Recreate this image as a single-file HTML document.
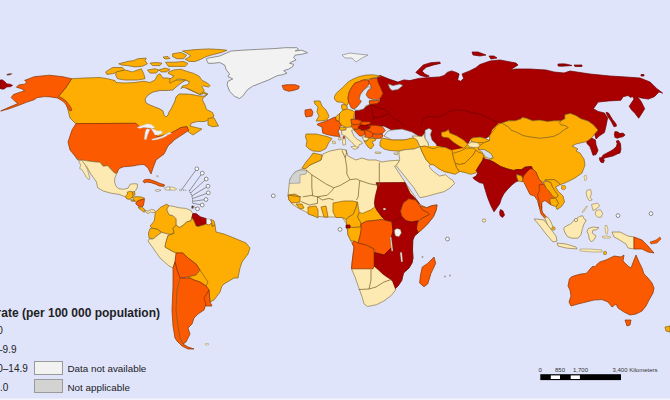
<!DOCTYPE html>
<html><head><meta charset="utf-8"><style>
html,body{margin:0;padding:0;width:670px;height:400px;overflow:hidden;background:#dfe4fb;}
#m{position:absolute;left:0;top:0;filter:blur(0.4px);}
.t{position:absolute;font-family:"Liberation Sans",Arial,sans-serif;color:#222;white-space:nowrap;line-height:1;}
.r{font-size:10px;text-align:right;}
.b{position:absolute;border:1px solid #9a9a9a;box-sizing:border-box;}
</style></head><body>
<svg id="m" width="670" height="400" viewBox="0 0 670 400">
<rect width="670" height="400" fill="#dfe4fb"/>
<polygon points="71.6,78.7 84,78 100,77.5 107.5,78.75 115,80.6 116,82.5 125,83 135,82.5 143.75,81.25 150,82.5 155,80 157.5,75 160,73.75 163,78 168,78 174,80 182,80 188,80 192,84 196,88 204,92 208,94 202,99 205,105 206.5,109.5 212.5,112.5 214,116 211,118.5 205,121.5 197.5,121.5 191.5,123 190,126 202,129 193,135 188.5,132 188.5,130.5 187,126.7 181,127.5 172,132.6 170,133.2 166.8,134.3 161.8,135.9 156.9,136.5 155.2,134.3 154.1,131 153,128.5 151.4,128.2 148.1,127.7 144.2,127.4 139.3,126.6 136,123.3 76,123.6 75,123 70,118 68,110 65.7,102 61.2,99.1 57.5,97.6 65.7,87.9" fill="#feae02" stroke="#85621a" stroke-width="0.72" stroke-linejoin="round"/>
<polygon points="145,99 148,95 153,92 160,90.5 166,90.5 173,90 176,87 181,83 186,80 191,82 190,85 186,88 190,90 196,92.8 200,94.6 204,93.5 207,94.5 204,96.2 198,95.8 192,94.5 186,94 179,94 176,97 175,101 173,105 171,109 169,112 168,115 166,117 164,115 163,111 160,109 155,107 150,105 146,103" fill="#dfe4fb" stroke="#735c2e" stroke-width="0.72" stroke-linejoin="round"/>
<polygon points="208,118.5 214,117.7 218.5,126 212.5,126.7 208,125" fill="#feae02" stroke="#85621a" stroke-width="0.72" stroke-linejoin="round"/>
<polygon points="24.6,80.4 34.3,76.7 49.3,75.2 62.7,76.7 71.6,78.7 65.7,87.9 58.5,96.5 62,98 66,101 70,106 72,110 70,111 68,108 65,103 61,100 57.5,98 50.7,96.9 44.8,96.6 37.3,97.6 33.6,99.9 26.9,102.1 19.4,105.1 9,108.8 0.7,111 9,107.3 17.9,103.6 14.2,100.6 11.2,97.6 13.4,94.6 19.4,92.4 24.6,90.9 21.6,88.7 16.4,87.2 18.7,84.9 24.6,84.2 26.9,81.9" fill="#fc5a00" stroke="#8a3400" stroke-width="0.72" stroke-linejoin="round"/>
<polygon points="76,123.6 136,123.3 139.3,126.6 144.2,127.4 148.1,127.7 151.4,128.2 153,128.5 154.1,131 155.2,134.3 156.9,136.5 161.8,135.9 166.8,134.3 170,133.2 172,132.6 181,127.5 187,126.7 188.5,130.5 179.5,136.5 174,140 172,142.5 170,144 168,146 164,154 156,160 153,168 151,174 148,168 144,164.5 141.5,164.6 137,165.1 134.7,165.7 130.2,166.2 123.5,166.8 119,168.5 116.7,173.6 114.5,173 111.1,169.6 107.7,165.7 103.2,166.2 99.9,162.3 93.1,161.7 85.2,160.6 77.4,159.5 75,156 70,150 68,142 72,130" fill="#fc5a00" stroke="#8a3400" stroke-width="0.72" stroke-linejoin="round"/>
<polygon points="137.1,127.2 143.5,125.1 147.2,123.7 151.4,124.4 154.9,127.2 152.9,128.6 148.6,128.0 143.5,127.6 139.3,128.6" fill="#f3f1f8" stroke="#b8b0a0" stroke-width="0.36" stroke-linejoin="round"/>
<polygon points="147.1,128.8 150.0,129.4 147.8,134.5 146.3,139.4 144.3,139.4 144.9,133.7 145.7,130.2" fill="#f3f1f8" stroke="#b8b0a0" stroke-width="0.36" stroke-linejoin="round"/>
<polygon points="150.5,127.9 154.1,129.3 157.0,130.8 161.3,130.8 162.7,132.9 158.4,135.1 154.8,135.1 153.4,132.2" fill="#f3f1f8" stroke="#b8b0a0" stroke-width="0.36" stroke-linejoin="round"/>
<polygon points="151.5,139.2 157.2,137.8 162.2,136.3 165.8,134.1 168.7,133.5 167.2,135.5 162.9,137.8 157.2,139.6 152.9,140.2" fill="#f3f1f8" stroke="#b8b0a0" stroke-width="0.36" stroke-linejoin="round"/>
<polygon points="166.1,133.8 169.6,132.3 171.8,133.1 169.0,134.6" fill="#f3f1f8" stroke="#b8b0a0" stroke-width="0.36" stroke-linejoin="round"/>
<polygon points="77.4,159.5 85.2,160.6 93.1,161.7 99.9,162.3 103.2,166.2 107.7,165.7 111.1,169.6 114.5,173 116.7,173.6 115,177.5 114.5,182 116.2,186.5 119,188.7 123.5,189.3 128,188.2 130.2,184.2 134.7,183.7 137.4,184 137.4,187.1 135.7,190.4 134,192.1 130,192 126.9,197.7 124.6,196.6 119,194.4 111.1,193.2 103.2,191 97.6,187.6 96.5,182 90.9,174.1 86.4,166.2 82,161.5" fill="#fde9b2" stroke="#8f7c4a" stroke-width="0.72" stroke-linejoin="round"/>
<polygon points="78.5,160.6 81.9,160.6 85.2,165.1 87.5,169.6 89.7,177.5 89.2,179.7 86.4,177.5 84.1,173 81.9,169.6 79.6,168.5 80.7,165.1" fill="#fde9b2" stroke="#8f7c4a" stroke-width="0.60" stroke-linejoin="round"/>
<polygon points="127.4,192.1 130.7,191.3 132.4,192.1 133.2,195.4 131.6,197.9 129.1,199.5 126.6,198.7 125.4,196.2 127.4,194.6" fill="#feae02" stroke="#85621a" stroke-width="0.72" stroke-linejoin="round"/>
<polygon points="132.4,192.1 134.5,191.5 135,195 133.2,195.4" fill="#feae02" stroke="#85621a" stroke-width="0.72" stroke-linejoin="round"/>
<polygon points="132.4,197 136.5,196.6 141.5,197 144.4,198.3 142.3,199.5 139,200.4 136.5,202 134,200.4" fill="#feae02" stroke="#85621a" stroke-width="0.72" stroke-linejoin="round"/>
<polygon points="130.7,199.5 134,200.4 134.9,201.2 131.5,201.2" fill="#feae02" stroke="#85621a" stroke-width="0.72" stroke-linejoin="round"/>
<polygon points="136.5,202 139,200.4 142.3,199.5 144.4,198.7 144,202.8 143.1,206.1 141.5,207 138.2,206.1 135.7,203.7" fill="#fc5a00" stroke="#8a3400" stroke-width="0.72" stroke-linejoin="round"/>
<polygon points="138.2,207 141.5,207 144,208.6 145.6,211.1 144,212.3 141.5,210.3 139,208.6" fill="#feae02" stroke="#85621a" stroke-width="0.72" stroke-linejoin="round"/>
<polygon points="144.8,210.3 148.1,211.1 151.4,209.4 154.7,210.3 155.5,211.9 153,212.8 150.6,211.9 148.1,213.6 145.6,211.9" fill="#fde9b2" stroke="#8f7c4a" stroke-width="0.72" stroke-linejoin="round"/>
<polygon points="143,181.2 144.5,179.7 149,179.3 154.9,181.2 160.1,183.4 164.6,184.9 163.9,186.4 159.4,186 155.7,184.2 151.2,182.7 146.7,182 144.5,183" fill="#fc5a00" stroke="#8a3400" stroke-width="0.72" stroke-linejoin="round"/>
<polygon points="164.6,187.9 168.4,186.8 170,187 170,190.1 165.4,189.8" fill="#f2f2f2" stroke="#735c2e" stroke-width="0.48" stroke-linejoin="round"/>
<polygon points="170,187 172.8,187.2 176.6,188.7 175.8,190.1 170,190.1" fill="#fde9b2" stroke="#8f7c4a" stroke-width="0.48" stroke-linejoin="round"/>
<polygon points="155,190.3 158,189.4 161,190.2 159,191.3 156,191.3" fill="#f2f2f2" stroke="#735c2e" stroke-width="0.48" stroke-linejoin="round"/>
<polygon points="156.5,175.7 158,175.5 158.3,176.8 157,177" fill="#f2f2f2" stroke="#735c2e" stroke-width="0.36" stroke-linejoin="round"/>
<polygon points="179.5,189.3 181.8,189.3 181.8,190.8 179.5,190.8" fill="#f2f2f2" stroke="#735c2e" stroke-width="0.36" stroke-linejoin="round"/>
<polygon points="206.6,58.4 219.7,56 231.2,51 242.7,50.2 257.5,49.4 273.9,48.6 285.4,47.7 296.9,47.7 298.5,49.4 295.2,51 301.8,50.2 307.6,52.7 301.8,54.3 295.2,55.1 293.6,57.6 296.1,60.1 292,61.7 289.5,63.3 293.6,64.2 292.8,66.6 288.7,69.1 283.7,70.7 287,73.2 282.1,74.8 277.2,75.7 273.9,77.3 269,79.8 260.8,83 252.5,86.3 247.6,89.6 242.7,96.2 239.4,98.6 234.5,96.2 229.6,91.3 227.1,84.7 227.9,81.4 232.8,78.9 227.9,76.5 229.6,74 226.3,69.9 224.6,65 219.7,62.5 213.1,63.3 208.2,63.3 206.6,60" fill="#f2f2f2" stroke="#8a8a8a" stroke-width="0.96" stroke-linejoin="round"/>
<polygon points="105.6,71.9 112.5,67.5 122.5,67.5 124.4,70 118.75,71.9 112.5,73.75 106.9,74.4" fill="#feae02" stroke="#85621a" stroke-width="0.72" stroke-linejoin="round"/>
<polygon points="116.25,71.9 125,70 132.5,71.9 137.5,70 141.25,68.75 143.75,73.75 145,78.75 137.5,80 125,80 117.5,78.75 115.6,75" fill="#feae02" stroke="#85621a" stroke-width="0.72" stroke-linejoin="round"/>
<polygon points="118.75,63.75 128.75,61.25 133.75,60.6 137.5,58.75 146.25,58.1 145,60.6 147.5,63.75 142.5,66.25 135,66.9 127.5,65.6 121.25,65" fill="#feae02" stroke="#85621a" stroke-width="0.72" stroke-linejoin="round"/>
<polygon points="150,63.1 156.25,62.5 161.9,63.1 160,65.6 152.5,65.6" fill="#feae02" stroke="#85621a" stroke-width="0.72" stroke-linejoin="round"/>
<polygon points="147.5,70 155,68.75 158.75,70 156.25,73.1 150,73.1" fill="#feae02" stroke="#85621a" stroke-width="0.72" stroke-linejoin="round"/>
<polygon points="158.75,70 165,68.1 170,69.4 166.25,71.9 161.25,71.9" fill="#feae02" stroke="#85621a" stroke-width="0.72" stroke-linejoin="round"/>
<polygon points="163,57 168,56.5 170,58.5 165,59" fill="#feae02" stroke="#85621a" stroke-width="0.72" stroke-linejoin="round"/>
<polygon points="182.4,51 195,49.6 209,48.9 221.6,49.6 227,50.3 221.6,52.4 213.2,54.5 206.2,56.6 200.6,59.4 195,61.5 189.4,61.5 185.2,59.4 190.8,55.9 188,53.8" fill="#feae02" stroke="#85621a" stroke-width="0.72" stroke-linejoin="round"/>
<polygon points="172.6,53.8 181,52.4 186.6,55.2 183.8,58.7 176.8,58.7 172.6,56.6" fill="#feae02" stroke="#85621a" stroke-width="0.72" stroke-linejoin="round"/>
<polygon points="165.6,62.2 174,62.2 183.8,61.5 188,63.6 185.2,66.4 176.8,66.4 168.4,66.4" fill="#feae02" stroke="#85621a" stroke-width="0.72" stroke-linejoin="round"/>
<polygon points="168.4,72 174,69.9 181,69.2 186.6,71.3 193.6,73.4 199.2,76.2 202,80.4 207.6,83.2 209.7,85.3 210.2,85.6 208.4,87 203,85.8 201.8,87 204.2,90 203,92.4 199.4,94.2 195.8,92.4 191,90 186.6,88.1 182.4,87.4 181,88.8 182.4,86 188,84.6 189.4,81.8 185.2,79.7 178.2,79 175.4,80.4 169.8,83.2 169.8,79 174,76.2 168.4,73.4" fill="#feae02" stroke="#85621a" stroke-width="0.72" stroke-linejoin="round"/>
<polygon points="282.1,85.5 287,84.7 295.2,84.7 299.3,86.3 298.5,88.8 293.6,90.4 288.7,91.3 283.7,89.6" fill="#fc5a00" stroke="#8a3400" stroke-width="0.72" stroke-linejoin="round"/>
<polygon points="342,55 350,53 358,54 368,55 362,58 356,62 352,58 345,58" fill="#f2f2f2" stroke="#8a8a8a" stroke-width="0.72" stroke-linejoin="round"/>
<polygon points="380,75.4 389,79.1 397.9,82.1 403.9,79.9 409.9,80.6 418.8,78.4 429.3,77.6 439.7,76.9 444.2,75.4 447.2,72.4 451.6,70.9 456.1,72.4 459.1,73.9 457.6,79.9 460.6,81.3 463.6,78.4 462.1,73.9 469.6,70.9 475.5,67.9 480,64.5 490,61 500,60 516,63 518,65 510,70 516,69 530,69 546,70 554,72 564,73 570,71 590,74 610,76 626,77 640,78 650,82 656.6,88.4 662.6,93.1 659,91.9 654.3,96.7 648.3,99.1 641.1,97.9 637.5,96.7 641.1,101.5 644.7,108.7 641.1,114.6 638.7,118.2 635.1,113.4 631.6,109.9 629.2,106.3 634,99.1 632.8,96.7 630.4,97.3 628,95.5 623.2,96.7 620.8,100.3 608.9,100.9 598.1,102.1 593.4,108.7 598,111.4 604.4,113 607.6,117.9 606,126 604.4,132.5 599.5,135.8 596,139 594.6,134 598,130 593,124.4 588,121 585,120.1 581,118.8 575.6,115.4 570.3,113.4 564.9,114.7 564.9,118.8 560.9,120.8 554.1,120.8 547.4,121.4 539.4,120.1 532.6,120.8 525.9,118.1 521.9,117.4 521.2,118.8 515.2,120.8 508.4,120.8 500.4,123.5 495,126.8 495,128.9 492.4,131.6 489.6,135.8 485.5,138.5 480,137.1 473.1,137.8 470.4,139.2 467.6,144 463.5,148.1 460.8,150.9 456.6,153 452.5,150.9 445.6,147.4 438.8,146.8 437.4,147.4 436,144 432,139.9 430.5,134.4 432,130.3 429,128.2 425,130.3 424,134 422,136.5 416,136 412,134 404,130 398,129 392,130 388,128 384,126 378,126 372,127 366,126 360,125 355,121 355,111 360,110 366,107 370,104 375,103 380,101 380,98 382.5,93.5 380,88 378,83 377,77" fill="#a80000" stroke="#700000" stroke-width="0.72" stroke-linejoin="round"/>
<polygon points="0,80.2 2,79.8 4.7,81.5 6.8,83.9 10.1,84.2 12.5,85.4 10.8,86.6 6.8,86.9 4,89 1.4,89 0,88.3" fill="#a80000" stroke="#700000" stroke-width="0.72" stroke-linejoin="round"/>
<polygon points="6.8,74.3 10,73.5 12.2,73.7 10,75 7,75.3" fill="#6a3030" stroke="#735c2e" stroke-width="0.36" stroke-linejoin="round"/>
<polygon points="606,112.2 608.5,113 612.5,119.5 615.8,123.6 616.6,126 614,126.8 611,121 607.6,116.3" fill="#a80000" stroke="#700000" stroke-width="0.72" stroke-linejoin="round"/>
<polygon points="614.9,131.7 617.2,131.7 620,133.6 622.8,133.1 625.1,134.9 622.8,136.8 620,137.3 617.2,138.2 614.9,137.3 614.4,134.5" fill="#a80000" stroke="#700000" stroke-width="0.72" stroke-linejoin="round"/>
<polygon points="616.3,141 618.6,140.5 620.5,143.7 620.9,149.3 620,153 617.2,153.9 613.5,155.8 609.8,156.7 606.1,157.6 603.3,158.6 601.5,157.6 603.3,154.9 607,153 610.7,151.1 613.5,149.3 616.3,146.5 617.2,143.7" fill="#a80000" stroke="#700000" stroke-width="0.72" stroke-linejoin="round"/>
<polygon points="599.6,157.6 603.3,158.6 604.3,160.4 603.3,162.7 601,162.3 599.6,159.9" fill="#a80000" stroke="#700000" stroke-width="0.72" stroke-linejoin="round"/>
<polygon points="586.5,141.5 591.4,138 595.4,140 596,144.7 598,150.4 596,154.5 593,155.3 591.4,150.4 589.8,146.3 587.3,144" fill="#a80000" stroke="#700000" stroke-width="0.72" stroke-linejoin="round"/>
<polygon points="415.8,72.4 423.3,64.9 430.7,62.7 439.7,62 440.4,63.4 433.7,64.9 426.3,67.2 422,71 424.8,73.9 429.3,76.1 426.3,76.9 420.3,75.4" fill="#a80000" stroke="#700000" stroke-width="0.72" stroke-linejoin="round"/>
<polygon points="472,52 478,52 486,55 480,56 473,55" fill="#a80000" stroke="#700000" stroke-width="0.72" stroke-linejoin="round"/>
<polygon points="489,56 494,56 497,58 491,59" fill="#a80000" stroke="#700000" stroke-width="0.72" stroke-linejoin="round"/>
<polygon points="558,64 566,64 572,65.5 566,66 559,66" fill="#a80000" stroke="#700000" stroke-width="0.72" stroke-linejoin="round"/>
<polygon points="574,65 582,65 582,66.5 575,66.5" fill="#a80000" stroke="#700000" stroke-width="0.72" stroke-linejoin="round"/>
<polygon points="558,64.5 564,64 564,66 558,66" fill="#a80000" stroke="#700000" stroke-width="0.72" stroke-linejoin="round"/>
<polygon points="641,74.5 644,74.5 644,76 641,76" fill="#a80000" stroke="#700000" stroke-width="0.72" stroke-linejoin="round"/>
<polygon points="334.5,96.2 336.7,92.8 342.4,87.7 348,82.1 352.5,79.3 359.2,76.5 366,75.1 372.7,74.8 377.2,75.4 380.6,76.5 377.2,77 372.7,78.2 368.2,79.3 363.7,79.9 359.2,81.6 354.7,83.2 351.4,87.7 349.1,92.2 348,97.9 348.6,102.4 346.9,105.7 342.4,102.4 336.7,101.8 334.5,99" fill="#feae02" stroke="#85621a" stroke-width="0.72" stroke-linejoin="round"/>
<polygon points="348,97.9 349.1,92.2 351.4,87.7 354.7,83.2 359.2,81.6 363.7,79.9 368.2,80.4 369.4,83.2 367.1,86.6 363.7,90 360.4,94.5 359.2,99 361.5,101.2 359.2,104.6 357,106.9 354.2,109.1 351.4,108 349.7,104.6 348.6,102.4" fill="#fc5a00" stroke="#8a3400" stroke-width="0.72" stroke-linejoin="round"/>
<polygon points="368.2,80.4 372.7,78.2 377.2,78.7 378.4,83.2 380.6,87.7 382.9,93.4 380.6,97.9 377.2,99.6 372.7,99.6 368.2,97.9 366,94.5 368.2,90 371.6,87.7 370.5,85.5 369.4,83.2" fill="#fc5a00" stroke="#8a3400" stroke-width="0.72" stroke-linejoin="round"/>
<polygon points="355.9,110.2 359.2,110.2 363.7,109.1 366,105.7 369.4,104.6 369.4,100.6 375,100.6 380,100.2 377.2,99.6 372.7,99.6 368.2,97.9 366,94.5 368.2,90 371.6,87.7 368.2,86.6 363.7,90 360.4,94.5 359.2,99 361.5,101.2 359.2,104.6 357,106.9 354.2,109.1" fill="#dfe4fb" stroke="#735c2e" stroke-width="0.60" stroke-linejoin="round"/>
<polygon points="369.4,100.8 375,100.8 378.4,100.2 379.5,101.2 377.2,103.5 372.7,104 370.5,104.6 369.4,102.4" fill="#fc5a00" stroke="#8a3400" stroke-width="0.72" stroke-linejoin="round"/>
<polygon points="388,83.8 393,85.6 400,84 403,85.5 398,89.5 392,90.5 389.5,88" fill="#dfe4fb" stroke="#735c2e" stroke-width="0.60" stroke-linejoin="round"/>
<polygon points="314,101 320,101 322,106 326,110 329,116 327,120 320,121 316,121 319,116 317,112 318,107 315,104" fill="#feae02" stroke="#85621a" stroke-width="0.72" stroke-linejoin="round"/>
<polygon points="305,110 311,109 313,112 312,116 306,117 305,114" fill="#fc5a00" stroke="#8a3400" stroke-width="0.72" stroke-linejoin="round"/>
<polygon points="341.7,104.8 345,104.5 347.4,107 346.5,110.1 342.5,110.1 341.5,107" fill="#feae02" stroke="#85621a" stroke-width="0.72" stroke-linejoin="round"/>
<polygon points="339.5,113.5 342.9,110.1 347.4,109 353,110.7 354.7,112.4 353.6,116.9 354.1,119.3 351,119.4 351.5,123.5 351.7,124.7 351.7,127 346.2,127.5 341.2,125.3 338.9,121.4 339.5,116.9" fill="#feae02" stroke="#85621a" stroke-width="0.72" stroke-linejoin="round"/>
<polygon points="335.5,117 339.5,113.5 339.5,116.9 338.9,121.4 336,120.5" fill="#feae02" stroke="#85621a" stroke-width="0.72" stroke-linejoin="round"/>
<polygon points="351,119.4 355,119.2 359,120 361.8,121.2 361.5,123.5 358,124.5 354,124.7 351.5,123.5" fill="#fc5a00" stroke="#8a3400" stroke-width="0.72" stroke-linejoin="round"/>
<polygon points="360.4,122.3 364,121.8 370.5,122 369.5,124.5 365,125.4 360.4,125" fill="#fc5a00" stroke="#8a3400" stroke-width="0.72" stroke-linejoin="round"/>
<polygon points="351.7,124.7 354,124.7 358,124.5 361.5,123.5 360.4,125 360.6,127.5 357,129.4 353,129 351.7,127" fill="#fc5a00" stroke="#8a3400" stroke-width="0.72" stroke-linejoin="round"/>
<polygon points="358.4,127 360.4,125 365,125.4 369.5,124.5 370.5,126.5 369.8,128.5 366,130.1 361,130 358.4,128.5" fill="#a80000" stroke="#700000" stroke-width="0.72" stroke-linejoin="round"/>
<polygon points="368.5,125.4 375.5,125.3 382.2,126.4 385.3,130.4 382.2,133.7 377.7,134.1 373.2,133.7 369.9,131.5 366,130.1 369.8,128.5 370.5,126.5" fill="#fc5a00" stroke="#8a3400" stroke-width="0.72" stroke-linejoin="round"/>
<polygon points="354,129.6 357,129.4 360.6,127.5 358.4,128.5 361,130 365,131 365,134 362,136.1 359.7,136 357.5,133.7 355.2,131.5" fill="#fc5a00" stroke="#8a3400" stroke-width="0.72" stroke-linejoin="round"/>
<polygon points="361,130 366,130.1 369.9,131.5 373.2,133.7 372,137 369,138.2 365,137 365,134 365,131" fill="#fc5a00" stroke="#8a3400" stroke-width="0.72" stroke-linejoin="round"/>
<polygon points="373.2,133.7 377.7,134.9 382.2,133.7 383,136 381,138.2 375,138.5 372,137" fill="#fc5a00" stroke="#8a3400" stroke-width="0.72" stroke-linejoin="round"/>
<polygon points="362,137 365,137 369,138.2 367,141 364,141" fill="#fde9b2" stroke="#8f7c4a" stroke-width="0.72" stroke-linejoin="round"/>
<polygon points="364,141 367,141 369,138.2 375,138.5 376,140 372,142 374,145 371,149 368,147 366,144" fill="#feae02" stroke="#85621a" stroke-width="0.72" stroke-linejoin="round"/>
<polygon points="339.5,127 346.2,127.5 346,130 341,130.4 339.5,129" fill="#feae02" stroke="#85621a" stroke-width="0.72" stroke-linejoin="round"/>
<polygon points="317.3,124 326.5,121 332.5,118 335.5,117 336,120.5 338.9,121.4 341.2,125.3 339.5,127 339.5,129 338,131 340,136.5 334,136 327,134.5 322.7,133 322,127 317.5,125" fill="#fc5a00" stroke="#8a3400" stroke-width="0.72" stroke-linejoin="round"/>
<polygon points="341.7,130.4 346,130 346.2,127.5 351.7,127 353,129 354,129.6 351.5,130.5 354,136.3 357.2,139.4 361.3,141.5 362.4,143.6 359.3,144.6 358.2,147.8 356.1,148.3 355.1,145.7 351.9,142.5 348.8,139.4 345.7,136.3 341.5,134.2" fill="#fde9b2" stroke="#8f7c4a" stroke-width="0.72" stroke-linejoin="round"/>
<polygon points="350.9,146.7 355.1,146.2 357.7,147.2 356.1,149.3 353,148.8" fill="#fde9b2" stroke="#8f7c4a" stroke-width="0.60" stroke-linejoin="round"/>
<polygon points="343,138.2 345.2,138.6 345.7,144.6 343,145.2 342.5,141.5" fill="#fde9b2" stroke="#8f7c4a" stroke-width="0.60" stroke-linejoin="round"/>
<polygon points="343,136.6 344.8,136.6 344.8,138.2 343,138.2" fill="#fc5a00" stroke="#8a3400" stroke-width="0.60" stroke-linejoin="round"/>
<polygon points="332.3,141 335.2,141.5 335.5,143.5 333,143.8" fill="#fde9b2" stroke="#8f7c4a" stroke-width="0.60" stroke-linejoin="round"/>
<polygon points="338.6,137.6 341,137.6 341,140 338.6,140" fill="#fde9b2" stroke="#8f7c4a" stroke-width="0.60" stroke-linejoin="round"/>
<polygon points="375,152 381,152.2 380.5,153.5 375.5,153.3" fill="#fde9b2" stroke="#8f7c4a" stroke-width="0.60" stroke-linejoin="round"/>
<polygon points="393.7,153.2 398,152.8 397.5,154.6 394.5,154.5" fill="#fde9b2" stroke="#8f7c4a" stroke-width="0.60" stroke-linejoin="round"/>
<polygon points="306,134 316,134 327,136.5 332,138.5 328.5,143 326,148.5 320,151.5 313,151 309,149 306,146 307,141 305.5,137" fill="#feae02" stroke="#85621a" stroke-width="0.72" stroke-linejoin="round"/>
<polygon points="384,136 388,131 392,130 402,129 412,132 420,137 414,139 404,140 392,140" fill="#dfe4fb" stroke="#735c2e" stroke-width="0.60" stroke-linejoin="round"/>
<polygon points="425,130.3 429,128.2 432,130.3 430.5,134.4 432,139.9 436,144 437.4,147.4 433.3,148.8 429,147.4 427.8,142.6 425,138.5" fill="#dfe4fb" stroke="#735c2e" stroke-width="0.60" stroke-linejoin="round"/>
<polygon points="382,138 392,140 404,140 412,138 414,138 417,140 420,146.7 414,149 405,149.7 399,151.2 390,150.5 384,149 380,146 380,142" fill="#feae02" stroke="#85621a" stroke-width="0.72" stroke-linejoin="round"/>
<polygon points="412,136 416,136 422,136.5 424,134 425,138.5 427.8,142.6 429,147.4 425,146.1 420,146.7 417,140 414,138" fill="#fde9b2" stroke="#8f7c4a" stroke-width="0.72" stroke-linejoin="round"/>
<polygon points="421,146 438,146 452,150 463,148 467,144 471,142 484,142 489.6,140.6 492,130 500,122 500,160 484,158 476,173 460,172 455,174 444,172 433,165 425,156" fill="#feae02"/>
<polygon points="398.2,162.5 399.7,159.5 399,155 399,151.2 405,149.7 414,149 420,146.7 422.2,152 426,159.5 430.5,164.7 429,165.5 430.5,168.5 433.5,171.5 436.5,173.7 439.5,176 444,175.2 445.5,174.5 448.5,177.5 453,180.5 454.5,183.5 450,188 444,191.7 435,194 427.5,196.2 420,197.7 418.5,195.5 414,188 408,180.5 402,173 396,165.5" fill="#fde9b2" stroke="#8f7c4a" stroke-width="0.72" stroke-linejoin="round"/>
<polygon points="420,146.7 425,146.1 433.3,148.8 438.8,146.8 445.6,147.4 452.5,150.9 452.5,153.6 453.9,159.1 455.3,163.3 456.6,167.4 459.4,171.5 455.3,174.3 449.8,172.9 444.3,171.5 438.8,168.8 433.3,164.6 430.5,164.7 426,159.5 422.2,152" fill="#feae02" stroke="#85621a" stroke-width="0.72" stroke-linejoin="round"/>
<polygon points="441.5,132.3 445.6,131.6 448.4,129.6 449.8,133 456.6,135.8 463.5,139.9 467.6,144 466.3,146.1 463.5,148.1 459.4,146.1 453.9,142.6 448.4,137.8 442.9,137.1 441.5,135.8" fill="#feae02" stroke="#85621a" stroke-width="0.72" stroke-linejoin="round"/>
<polygon points="470.4,139.2 473.1,137.8 480,137.1 485.5,138.5 489.6,140.6 484.1,142.6 477.3,142.6 471.8,142" fill="#feae02" stroke="#85621a" stroke-width="0.72" stroke-linejoin="round"/>
<polygon points="467.6,144 471.8,142 477.3,142.6 480,145.4 478.6,147.4 473.1,147.4 469,146.8" fill="#fde9b2" stroke="#8f7c4a" stroke-width="0.72" stroke-linejoin="round"/>
<polygon points="452.5,153.6 460.8,150.9 466.3,148.1 473.1,148.1 475.9,150.2 473.1,155 469,159.1 464.9,163.3 459.4,164.6 455.3,163.3 453.9,159.1" fill="#feae02" stroke="#85621a" stroke-width="0.72" stroke-linejoin="round"/>
<polygon points="475.9,150.2 478.6,152.3 482.8,153.6 484.1,157.8 481.4,161.9 478.6,166 477.3,170.1 475.9,172.9 470.4,174.3 466.3,172.9 460.8,171.5 459.4,171.5 456.6,167.4 455.3,163.3 459.4,164.6 464.9,163.3 469,159.1 473.1,155" fill="#feae02" stroke="#85621a" stroke-width="0.72" stroke-linejoin="round"/>
<polygon points="495,126.8 500.4,123.5 508.4,120.8 515.2,120.8 521.2,118.8 521.9,117.4 525.9,118.1 532.6,120.8 539.4,120.1 547.4,121.4 554.1,120.8 560.9,120.8 564.9,118.8 564.9,114.7 570.3,113.4 575.6,115.4 581,118.8 585,120.1 588,121 593,124.4 598,130 594.6,134 591.4,138 586.5,141.5 580,143 576,144 572,146 578,149 576,151 580,153 584,159 585,165 582,173 575,178 572,179.5 566,182.5 560,184.7 558.5,182.5 554,179.5 545,180 543.5,182.5 539,179.5 536,172 532.5,168.5 531.3,166.4 524.8,167.2 521.6,169.6 516.7,169.6 513.5,170.4 507,168.8 500.5,166.4 494,162.3 489.1,159.9 493.1,157.8 491,153.6 484.1,149.5 478.6,149.5 478.6,147.4 480,145.4 484.1,142.6 489.6,140.6 489.6,135.8 492.4,131.6 495,128.9" fill="#feae02" stroke="#85621a" stroke-width="0.72" stroke-linejoin="round"/>
<polygon points="478.6,149.5 484.1,149.5 491,153.6 493.1,157.8 489.6,158.5 485.5,157 482,152" fill="#d4dcf0" stroke="#735c2e" stroke-width="0.48" stroke-linejoin="round"/>
<polygon points="482.6,158.2 489.1,159.9 494,162.3 500.5,166.4 507,168.8 513.5,170.4 516.7,169.6 521.6,169.6 524.8,167.2 531.3,166.4 532.5,168.5 528.1,172.9 526.4,177.7 524.8,181 523.2,179.4 521.6,176.1 518.3,174.5 516.7,176.9 518.3,181 515.9,181.8 511.8,185 507,189.9 503.7,194 501.3,198.8 499.7,203.7 496.4,208.6 494,211.8 490.7,205.3 487.5,197.2 485,189.1 483.4,183.4 479.4,182.6 474.5,179.4 472.9,177.7 476.1,176.1 477.7,172.9 476.1,170.4 477.7,168 481,163.1 484.1,157.8" fill="#a80000" stroke="#700000" stroke-width="0.72" stroke-linejoin="round"/>
<polygon points="516.7,174.5 521.6,176.1 523.2,179.4 522.5,181.8 518.3,181 516.7,176.9" fill="#feae02" stroke="#85621a" stroke-width="0.72" stroke-linejoin="round"/>
<polygon points="500.5,209.5 503,211 504.5,215 502.5,217.5 500,215.5 499.7,212" fill="#a80000" stroke="#700000" stroke-width="0.72" stroke-linejoin="round"/>
<polygon points="533,169 536,172 539,179.5 543.5,184 542,190 539,194.5 541.2,200.5 542,208 541.2,211 539,206.5 537.5,200.5 534.5,196 530,194.5 527,188.5 524,182.5 522.5,181 523.5,176 527,172 530,169" fill="#fc5a00" stroke="#8a3400" stroke-width="0.72" stroke-linejoin="round"/>
<polygon points="539,185 543.5,184 546.5,188.5 549.5,191.5 552.5,196 555.5,198 549.5,199 551,205 545,200.5 542,202 541.2,208 542.7,212.5 546.5,217 545,218.5 541,214 539.5,208 539,200 537.5,195 539.5,190" fill="#fc5a00" stroke="#8a3400" stroke-width="0.72" stroke-linejoin="round"/>
<polygon points="543.5,182.5 546.5,181 551,182.5 552.5,187 555.5,191.5 558.5,196 555.5,198 552.5,196 549.5,191.5 546.5,188.5" fill="#feae02" stroke="#85621a" stroke-width="0.72" stroke-linejoin="round"/>
<polygon points="545,180 554,179.5 558.5,182.5 560,184.7 555.5,187 558.5,191.5 563,196 564.5,202 561.5,206.5 557,209.5 556,207 558.5,203.5 555.5,198 558.5,196 555.5,191.5 552.5,187 551,182.5 546.5,181" fill="#feae02" stroke="#85621a" stroke-width="0.72" stroke-linejoin="round"/>
<polygon points="549.5,199 555.5,198 558.5,203.5 555.5,206.5 551,205" fill="#feae02" stroke="#85621a" stroke-width="0.72" stroke-linejoin="round"/>
<polygon points="561.5,185.5 565,185.5 566,188 564,190 561.5,189" fill="#feae02" stroke="#85621a" stroke-width="0.48" stroke-linejoin="round"/>
<polygon points="544.5,217.5 547.5,217 550.5,221 553,227 551,229.5 548,226 546,221" fill="#fde9b2" stroke="#8f7c4a" stroke-width="0.72" stroke-linejoin="round"/>
<polygon points="536,219 544,220 550,228 556,236 557,241 553,242 546,234 540,226 534,219" fill="#fde9b2" stroke="#8f7c4a" stroke-width="0.72" stroke-linejoin="round"/>
<polygon points="557,243 566,244 576,247 577,249 566,248 558,246" fill="#fde9b2" stroke="#8f7c4a" stroke-width="0.72" stroke-linejoin="round"/>
<polygon points="580,249 590,249 602,250 602,252 592,252 580,251" fill="#fde9b2" stroke="#8f7c4a" stroke-width="0.48" stroke-linejoin="round"/>
<polygon points="564.5,227 570.5,224 575,219.5 579.5,216.5 582.5,215.7 584.7,219.5 586.2,220.2 584,224 582.5,228.5 581,234.5 578,238.2 572,238.2 567.5,236.7 565.2,233 563.7,229.2" fill="#fde9b2" stroke="#8f7c4a" stroke-width="0.72" stroke-linejoin="round"/>
<polygon points="588.5,228.5 593,227 599,227.7 596,230 593,230 592.2,233 596,236 594.5,239 591.5,242 589.2,239 588.5,234.5 587,231.5" fill="#fde9b2" stroke="#8f7c4a" stroke-width="0.72" stroke-linejoin="round"/>
<polygon points="587,190.2 590.7,189.5 591.5,194 590,197 592.2,200 589.2,200.7 587,197 586.2,193.2" fill="#fde9b2" stroke="#8f7c4a" stroke-width="0.60" stroke-linejoin="round"/>
<polygon points="591.5,204.5 597.5,203 599.7,206 596,209 593,210.5" fill="#fde9b2" stroke="#8f7c4a" stroke-width="0.60" stroke-linejoin="round"/>
<polygon points="596,210.5 600.5,209.7 602.7,213.5 601.2,217.2 597.5,217.2 595.2,214.2" fill="#fde9b2" stroke="#8f7c4a" stroke-width="0.60" stroke-linejoin="round"/>
<polygon points="586.5,206 587.5,206.5 583,212.5 582,212" fill="#fde9b2" stroke="#8f7c4a" stroke-width="0.48" stroke-linejoin="round"/>
<polygon points="605,225.5 607,225.5 608,230 607,234.5 605.5,233" fill="#fde9b2" stroke="#8f7c4a" stroke-width="0.48" stroke-linejoin="round"/>
<polygon points="602,236.3 606,236 611,237 610,238.2 603,238" fill="#fde9b2" stroke="#8f7c4a" stroke-width="0.48" stroke-linejoin="round"/>
<polygon points="584,176 586,175 587,179 585,181" fill="#fde9b2" stroke="#8f7c4a" stroke-width="0.48" stroke-linejoin="round"/>
<polygon points="612,232 620,232 628,236 634,237 634,249 628,248 626,244 618,239 614,237" fill="#fde9b2" stroke="#8f7c4a" stroke-width="0.72" stroke-linejoin="round"/>
<polygon points="634,237 642,240 648,246 654,253 648,252 642,249 634,249" fill="#fc5a00" stroke="#8a3400" stroke-width="0.72" stroke-linejoin="round"/>
<polygon points="650,242 656,240 660,237 661,239 657,243 651,244" fill="#fc5a00" stroke="#8a3400" stroke-width="0.48" stroke-linejoin="round"/>
<polygon points="569.4,279 571.3,276.9 575,275.6 580.6,274.1 586.3,273.4 588.8,270.6 591.9,266.9 593.1,266.3 595,266.9 597.5,263.8 600,261.9 606,260 614,256 621,257 624,255 623,261 628,266 631,268 634,260 636,255 639,262 642,268 644,274 648,278 652,283 654,288 653,293 649,300 646,306 642,311 636,314 630,315 624,312 618,308 616,304 612,307 608,302 602,299.6 594,300 586,302 578,304 571,306 569,302 571,296 570,290 568,286" fill="#fc5a00" stroke="#8a3400" stroke-width="0.72" stroke-linejoin="round"/>
<polygon points="625,320 631,320 630,325 627,326" fill="#fc5a00" stroke="#8a3400" stroke-width="0.72" stroke-linejoin="round"/>
<polygon points="665,327 670,326 670,332 666,331" fill="#feae02" stroke="#85621a" stroke-width="0.72" stroke-linejoin="round"/>
<polygon points="302,169 305,169 310,165 321,160 323,154 330,151 340,149 346,150 348,156 356,160 362,158 368,160 376,160 382,162 388,161 394,160.5 399.3,160.2 398.2,162.5 396,165.5 394.5,166.2 399,173 405,182 411,191 416.2,198.5 419.8,204.3 426.6,207.7 432.1,205.6 437,204.9 436.3,209.8 433.5,216.6 428,223.5 422.5,229 418.4,232.5 414.5,236 412.8,240 412.5,250 413,258 412,263 409,268 403.5,273 401.7,280.5 398,286 395.4,288.5 395.4,290.3 391,295.7 383.8,301 376.6,304.7 367.6,306.5 364,303.8 362,296.6 358.7,287.6 355,277 351.5,268.8 352,263 353,255 354,247 351,241 348,235 347,227 346,223 342,217 332,217 324,217 314,216 306,212 300,209 292,204 289,200 288,195 289,186 290,179 295,172" fill="#fde9b2" stroke="#8f7c4a" stroke-width="0.72" stroke-linejoin="round"/>
<polygon points="313,153 322,155 321,160 310,165 305,169 302,168 306,162 311,156" fill="#feae02" stroke="#85621a" stroke-width="0.72" stroke-linejoin="round"/>
<polygon points="301,170 307,170.5 306,174 300,175 300,183 289,183.5 290,179 293,174 297,171" fill="#d2d2d0" stroke="#8a8a8a" stroke-width="0.60" stroke-linejoin="round"/>
<polygon points="288,195 295,194 300,197 300,202 292,203 289,200" fill="#feae02" stroke="#85621a" stroke-width="0.72" stroke-linejoin="round"/>
<polygon points="296,204 302,204 304,208 300,209" fill="#feae02" stroke="#85621a" stroke-width="0.72" stroke-linejoin="round"/>
<polygon points="308,207 316,206 318,210 318,218 314,216 308,214" fill="#feae02" stroke="#85621a" stroke-width="0.72" stroke-linejoin="round"/>
<polygon points="321,207 326,206 328,217 324,217" fill="#feae02" stroke="#85621a" stroke-width="0.72" stroke-linejoin="round"/>
<polygon points="333,203 344,201 352,201 357.5,202 355.8,208 353.2,214.3 348.8,217 346.1,219.5 342,217.5 336,217.5 333,212" fill="#feae02" stroke="#85621a" stroke-width="0.72" stroke-linejoin="round"/>
<polygon points="357.5,202 358.4,208 359.3,212.5 357.5,217 360.2,221.3 361,224 361,227 352,227.5 347,226 346.1,219.5 348.8,217 353.2,214.3 355.8,208" fill="#feae02" stroke="#85621a" stroke-width="0.72" stroke-linejoin="round"/>
<polygon points="359.3,212.5 362.8,213.4 366.3,211.7 370.7,210 373.3,208 375,206.4 376.8,210 382,217 385.6,220.4 382,219.6 375,220.4 366.3,221.3 361,224 360.2,221.3 357.5,217" fill="#feae02" stroke="#85621a" stroke-width="0.72" stroke-linejoin="round"/>
<polygon points="347,226 352,227.5 361,227 361,224 362,229 360,236 358,243 354,241 351,241 348,235" fill="#feae02" stroke="#85621a" stroke-width="0.72" stroke-linejoin="round"/>
<polygon points="346,225 350,225 350,228 346,228" fill="#a80000" stroke="#700000" stroke-width="0.72" stroke-linejoin="round"/>
<polygon points="376,182.7 405,182.5 410.1,193.3 415.6,198.8 419.8,204.3 415.6,200.1 408.8,198.8 403.3,202.9 400.5,211.1 401.9,216.6 398,219 392,222 385.6,220.4 382,217 376.8,210 375,206.4 374.4,203.3 375.2,196.8 377.7,187" fill="#a80000" stroke="#700000" stroke-width="0.72" stroke-linejoin="round"/>
<polygon points="403.3,202.9 408.8,198.8 415.6,200.1 419.8,205.6 422.5,209.8 428,212.5 429.4,214.6 422.5,218 418.4,220.8 411.5,222.1 406,220.8 401.9,216.6 400.5,211.1" fill="#fc5a00" stroke="#8a3400" stroke-width="0.72" stroke-linejoin="round"/>
<polygon points="419.8,205.6 426.6,207.7 432.1,205.6 437,204.9 436.3,209.8 433.5,216.6 428,223.5 422.5,229 418.4,232.5 416.3,229 417,223.5 422.5,218 429.4,214.6 428,212.5 422.5,209.8" fill="#fc5a00" stroke="#8a3400" stroke-width="0.72" stroke-linejoin="round"/>
<polygon points="361,224 366.3,221.3 375,220.4 382,219.6 385.6,220.4 392,222 393,231 391,239 392,247 388,251 384,255 376,253 374,249 366,245 358,243 360,236 361,229" fill="#fc5a00" stroke="#8a3400" stroke-width="0.72" stroke-linejoin="round"/>
<polygon points="392,222 398,219 401.9,216.6 406,220.8 411.5,222.1 418.4,220.8 417,223.5 416.3,229 418.4,232.5 414.5,236 412.8,240 412.5,250 413,258 412,263 409,268 403.5,273 401.7,280.5 398,286 395.4,288.5 392.7,281.4 391,279.6 385.6,276 382,273.3 378.4,269.7 374,266 374,258 374,252 376,253 384,255 388,251 392,247 391,239 393,231" fill="#a80000" stroke="#700000" stroke-width="0.72" stroke-linejoin="round"/>
<polygon points="352,243 354,241 358,243 366,245 374,249 374,258 374,266 373,268.8 351.5,268.8 352,263 353,255 354,247" fill="#fc5a00" stroke="#8a3400" stroke-width="0.72" stroke-linejoin="round"/>
<polygon points="394.4,230 397,228.4 400.5,229.5 401.4,233 399,236.8 395.5,236 394.6,233" fill="#f2f2f2" stroke="#735c2e" stroke-width="0.48" stroke-linejoin="round"/>
<polygon points="390,237 391.3,237 393,251 391.6,251.2" fill="#f2f2f2" stroke="#735c2e" stroke-width="0.36" stroke-linejoin="round"/>
<polygon points="383.2,208 385.8,208.2 385.6,210 383.4,210" fill="#f2f2f2" stroke="#735c2e" stroke-width="0.36" stroke-linejoin="round"/>
<polygon points="400,252.5 401.8,252.3 402.8,261.8 401.2,262" fill="#f2f2f2" stroke="#735c2e" stroke-width="0.36" stroke-linejoin="round"/>
<polygon points="434,257 435.7,263.4 431,273.3 427.7,284 424,286.7 419.6,283 420.5,275 422.3,267 427.7,263.4 431,260" fill="#fc5a00" stroke="#8a3400" stroke-width="0.72" stroke-linejoin="round"/>
<polygon points="155.3,212.5 160.5,207.3 166.8,204.2 168.9,205.7 166.8,209.4 168.9,214.6 173.1,215.7 176.2,218.8 176.2,225.1 173.1,228.2 174.1,233.4 169.9,234.5 161.6,232.4 157.4,229.3 152.2,228.2 150.1,226.1 154.3,220.9" fill="#feae02" stroke="#85621a" stroke-width="0.72" stroke-linejoin="round"/>
<polygon points="166.8,209.4 168.9,205.7 173.1,206.3 179.3,207.8 185.6,208.4 190.8,210.4 192.9,213.6 191.9,217.8 190.8,220.9 186.7,221.9 183.5,225.1 179.3,227.7 176.2,225.1 176.2,218.8 173.1,215.7 168.9,214.6" fill="#fde9b2" stroke="#8f7c4a" stroke-width="0.72" stroke-linejoin="round"/>
<polygon points="192.9,213.6 196.1,213.6 200.2,216.7 206.5,218.8 206.5,224 203.4,225.1 198.2,226.6 196.1,226.1 194,220.9 191.9,217.8" fill="#a80000" stroke="#700000" stroke-width="0.72" stroke-linejoin="round"/>
<polygon points="206.5,218.8 210.7,219.3 211.7,223 208.6,225.1 206.5,224" fill="#f2f2f2" stroke="#999" stroke-width="0.48" stroke-linejoin="round"/>
<polygon points="210.7,219.3 214,221 215,225 212,226.5 211.7,223" fill="#feae02" stroke="#85621a" stroke-width="0.72" stroke-linejoin="round"/>
<polygon points="150,228.5 152.2,228.2 157.4,229.3 161.6,232.4 158,235 153,239 149,238 148.5,233" fill="#feae02" stroke="#85621a" stroke-width="0.72" stroke-linejoin="round"/>
<polygon points="149,239 153,239 158,235 161.6,232.4 169.9,234.5 174.1,233.4 168,235.5 166,242 165,247 172,251 177,253 175,262 173,268 169,266 160,258 153,248 148,241" fill="#fde9b2" stroke="#8f7c4a" stroke-width="0.72" stroke-linejoin="round"/>
<polygon points="176.2,225.1 179.3,227.7 183.5,225.1 186.7,221.9 190.8,220.9 191.9,217.8 194,220.9 196.1,226.1 198.2,226.6 203.4,225.1 206.5,224 208.6,225.1 211.7,223 212,226.5 215,225 216,232 224,234 234,238 246,243 250,248 248,254 242,262 240,268 238,278 234,278 224,284 222,286 220,292 214,300 210,302 209,290 206,286 200,282 196,276 200,270 196,264 188,258 183,253 176,253 172,251 165,247 166,242 168,235.5 174.1,233.4 173.1,228.2" fill="#feae02" stroke="#85621a" stroke-width="0.72" stroke-linejoin="round"/>
<polygon points="176,253 183,253 188,258 196,264 200,270 196,275 188,277 180,278 177,270 175,262" fill="#fc5a00" stroke="#8a3400" stroke-width="0.72" stroke-linejoin="round"/>
<polygon points="188,277 196,275 200,270 204,276 208,282 206,286 200,282 194,280" fill="#feae02" stroke="#85621a" stroke-width="0.72" stroke-linejoin="round"/>
<polygon points="203,298 209,290 210,302 212,306 206,306 204,303" fill="#fc5a00" stroke="#8a3400" stroke-width="0.72" stroke-linejoin="round"/>
<polygon points="175,262 177,270 180,278 190,278 194,280 200,282 206,286 209,290 204,298 206,304 204,310 198,314 194,318 192,324 188,328 190,334 186,342 183,344 188,347 194,349 188,349 182,346 177,341 175,338 173,326 172,310 173,286 173,268" fill="#fc5a00" stroke="#8a3400" stroke-width="0.72" stroke-linejoin="round"/>
<polygon points="205.5,343.5 208.5,343.5 208.5,345 205.5,345" fill="#fde9b2" stroke="#8f7c4a" stroke-width="0.36" stroke-linejoin="round"/>
<polyline points="306,170 311.8,174.8 311.8,187 312.6,195.2 302.9,196.8" fill="none" stroke="#735c2e" stroke-width="0.72" stroke-linejoin="round"/>
<polyline points="311.8,174.8 325.7,183.8 333.8,187.8 340.3,185.4 350,179.7" fill="none" stroke="#735c2e" stroke-width="0.72" stroke-linejoin="round"/>
<polyline points="341.9,150.4 345.2,157.8 346.8,167.5 346.8,174 350,179.7" fill="none" stroke="#735c2e" stroke-width="0.72" stroke-linejoin="round"/>
<polyline points="350,179.7 356.5,178.9 359.8,180.5 369.6,183.8 379.3,185.4" fill="none" stroke="#735c2e" stroke-width="0.72" stroke-linejoin="round"/>
<polyline points="379.3,162.6 379.3,185.4" fill="none" stroke="#735c2e" stroke-width="0.72" stroke-linejoin="round"/>
<polyline points="359.8,180.5 359,187 358.2,196.8 356.5,200" fill="none" stroke="#735c2e" stroke-width="0.72" stroke-linejoin="round"/>
<polyline points="333.8,187.8 332.2,190.3 327.3,195.2 317.5,196.8 311.8,195.5" fill="none" stroke="#735c2e" stroke-width="0.72" stroke-linejoin="round"/>
<polyline points="317.5,196.8 322.4,200 328.9,198.4 333.8,200" fill="none" stroke="#735c2e" stroke-width="0.72" stroke-linejoin="round"/>
<polyline points="301.3,201.7 309.4,205 317.5,203.3 317.5,196.8" fill="none" stroke="#735c2e" stroke-width="0.72" stroke-linejoin="round"/>
<polyline points="346,149.6 346.5,153 345.2,157.8" fill="none" stroke="#735c2e" stroke-width="0.72" stroke-linejoin="round"/>
<polyline points="288.3,195.2 301.3,196.8" fill="none" stroke="#735c2e" stroke-width="0.72" stroke-linejoin="round"/>
<polyline points="421.3,126.3 423,119.7 427.9,116.4 436.1,117.2 442.7,115.6 449.3,111.5 455.8,109.9 465.7,110.7 473.9,113.1 482.1,114.8 488.7,118.1 495.2,121.3 500.2,123" fill="none" stroke="#6e0000" stroke-width="0.72" stroke-linejoin="round"/>
<polyline points="502.4,123.5 508.4,126.8 511.1,130.2 516.5,132.2 523.2,135.6 530,136.9 539.4,138.2 546.1,137.6 554.1,136.2 559.5,133.5 563.5,130.2 568.3,127.5 564.9,125.5 560.9,124.8 559.5,122.8 560.9,120.8" fill="none" stroke="#735c2e" stroke-width="0.72" stroke-linejoin="round"/>
<polyline points="180,278 177,290 176,310 178,326 180,338 183,344" fill="none" stroke="#735c2e" stroke-width="0.72" stroke-linejoin="round"/>
<polyline points="371,269.5 371,280 369,289" fill="none" stroke="#735c2e" stroke-width="0.72" stroke-linejoin="round"/>
<polyline points="358.7,289.5 369,289 376,287 384,282 391,279.6" fill="none" stroke="#735c2e" stroke-width="0.72" stroke-linejoin="round"/>
<polyline points="371,106.4 372.4,112.1 373.8,117.8 372.4,120.7" fill="none" stroke="#6e0000" stroke-width="0.72" stroke-linejoin="round"/>
<polyline points="373.8,117.8 380.5,116.9 385.2,115 389,114" fill="none" stroke="#6e0000" stroke-width="0.72" stroke-linejoin="round"/>
<polyline points="379.5,108.3 384.3,109.3 387.1,111.2 389,114" fill="none" stroke="#6e0000" stroke-width="0.72" stroke-linejoin="round"/>
<polyline points="389,114 392.8,117.8 397.6,120.7 403.3,124.5 406.1,127.3" fill="none" stroke="#6e0000" stroke-width="0.72" stroke-linejoin="round"/>
<polyline points="370.5,104.6 374,106 379.5,108.3" fill="none" stroke="#6e0000" stroke-width="0.72" stroke-linejoin="round"/>
<line x1="196.8" y1="168.8" x2="181.7" y2="189.6" stroke="#555" stroke-width="0.6"/>
<line x1="202.2" y1="173.2" x2="189.3" y2="191" stroke="#555" stroke-width="0.6"/>
<line x1="206.2" y1="179" x2="190.6" y2="193" stroke="#555" stroke-width="0.6"/>
<line x1="208" y1="186.2" x2="192" y2="195.8" stroke="#555" stroke-width="0.6"/>
<line x1="208.3" y1="192.8" x2="192.7" y2="198.5" stroke="#555" stroke-width="0.6"/>
<line x1="206" y1="199.5" x2="192.7" y2="201.3" stroke="#555" stroke-width="0.6"/>
<line x1="202.2" y1="205" x2="192.7" y2="203.3" stroke="#555" stroke-width="0.6"/>
<line x1="197.5" y1="208.8" x2="192" y2="205.4" stroke="#555" stroke-width="0.6"/>
<polyline points="189,190.3 190.5,193 191.8,195.8 192.5,198.5 192.7,201.3 192.5,203.5" fill="none" stroke="#555" stroke-width="0.9" stroke-dasharray="1.2,0.8"/>
<polyline points="183,190 186.5,190.3" fill="none" stroke="#666" stroke-width="0.9" stroke-dasharray="1,0.7"/>
<circle cx="196.8" cy="168.8" r="1.9" fill="#fbfbfb" stroke="#6a6a6a" stroke-width="0.75"/>
<circle cx="202.2" cy="173.2" r="1.9" fill="#fbfbfb" stroke="#6a6a6a" stroke-width="0.75"/>
<circle cx="206.2" cy="179" r="1.9" fill="#fbfbfb" stroke="#6a6a6a" stroke-width="0.75"/>
<circle cx="208" cy="186.2" r="1.9" fill="#fbfbfb" stroke="#6a6a6a" stroke-width="0.75"/>
<circle cx="208.3" cy="192.8" r="1.9" fill="#fbfbfb" stroke="#6a6a6a" stroke-width="0.75"/>
<circle cx="206" cy="199.5" r="1.9" fill="#fbfbfb" stroke="#6a6a6a" stroke-width="0.75"/>
<circle cx="202.2" cy="205" r="1.9" fill="#fbfbfb" stroke="#6a6a6a" stroke-width="0.75"/>
<circle cx="197.5" cy="208.8" r="1.9" fill="#fbfbfb" stroke="#6a6a6a" stroke-width="0.75"/>
<polygon points="191.5,206 193.5,206 193.5,208.5 191.5,208.5" fill="#5a3020"/>
<circle cx="340" cy="229.4" r="1.9" fill="#fbfbfb" stroke="#6a6a6a" stroke-width="0.75"/>
<circle cx="618" cy="215.6" r="1.9" fill="#fbfbfb" stroke="#6a6a6a" stroke-width="0.75"/>
<circle cx="651" cy="213.6" r="1.9" fill="#fbfbfb" stroke="#6a6a6a" stroke-width="0.75"/>
<circle cx="273.3" cy="195.8" r="1.9" fill="#fbfbfb" stroke="#6a6a6a" stroke-width="0.75"/>
<circle cx="447.5" cy="239" r="1.9" fill="#fbfbfb" stroke="#6a6a6a" stroke-width="0.75"/>
<circle cx="553.5" cy="228.5" r="1.7" fill="#feae02" stroke="#7d6a48" stroke-width="0.6"/>
<circle cx="605" cy="253" r="1.7" fill="#feae02" stroke="#7d6a48" stroke-width="0.6"/>
<circle cx="484" cy="220.5" r="1.7" fill="#fde9b2" stroke="#7d6a48" stroke-width="0.6"/>
<circle cx="576" cy="220" r="1.7" fill="#fde9b2" stroke="#7d6a48" stroke-width="0.6"/>
<circle cx="445" cy="276.5" r="0.9" fill="#999"/>
<circle cx="450" cy="275.5" r="0.9" fill="#999"/>
<circle cx="422.5" cy="257" r="0.9" fill="#999"/>
<rect x="540.3" y="374.2" width="80.7" height="5.9" fill="#000"/>
<rect x="550.8" y="375.4" width="9.2" height="3.6" fill="#fff"/>
<rect x="570.7" y="375.4" width="9.2" height="3.6" fill="#fff"/>
<rect x="0" y="398.5" width="670" height="1.5" fill="#f4f5fb"/>
</svg>
<div class="t" style="left:-3.4px;top:306.6px;font-size:12px;font-weight:bold;">rate (per 100 000 population)</div>
<div class="t r" style="right:667.2px;top:326px;">5.0</div>
<div class="t r" style="right:653.5px;top:345px;">5.0–9.9</div>
<div class="t r" style="right:642.2px;top:364px;">10.0–14.9</div>
<div class="t r" style="right:661.6px;top:383px;">≥15.0</div>
<div class="b" style="left:34.3px;top:361.3px;width:28.5px;height:14px;background:#f2f2f0;"></div>
<div class="b" style="left:34.3px;top:379px;width:28.5px;height:14.3px;background:#d3d3d1;"></div>
<div class="t" style="left:67.5px;top:363.5px;font-size:9.85px;">Data not available</div>
<div class="t" style="left:67.5px;top:382.5px;font-size:9.85px;">Not applicable</div>
<div class="t" style="left:538.5px;top:367px;font-size:6px;color:#333;">0</div>
<div class="t" style="left:555px;top:367px;font-size:6px;color:#333;">850</div>
<div class="t" style="left:573px;top:367px;font-size:6px;color:#333;">1,700</div>
<div class="t" style="left:612.5px;top:367px;font-size:6px;color:#333;">3,400 Kilometers</div>
</body></html>
